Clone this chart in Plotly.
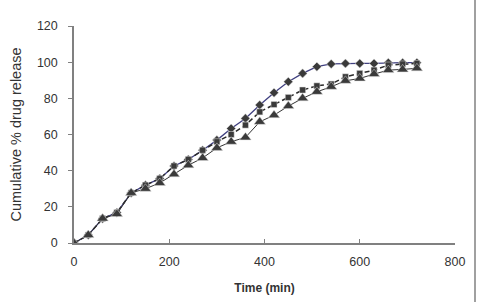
import plotly.graph_objects as go

time = [0, 30, 60, 90, 120, 150, 180, 210, 240, 270, 300, 330, 360, 390, 420, 450, 480, 510, 540, 570, 600, 630, 660, 690, 720]
diamond = [0, 4.4, 13.5, 16.8, 27.7, 32, 35.6, 42.6, 46.2, 51.3, 56.9, 63.3, 68.9, 76.3, 83.1, 89.2, 93.8, 97.5, 99.0, 99.3, 99.3, 99.3, 99.7, 99.7, 99.7]
square = [0, 4.4, 13.5, 16.8, 27.7, 32, 35.6, 42.6, 46.2, 51.3, 56.0, 60.0, 65.2, 72.5, 76.6, 80.5, 84.6, 86.9, 87.9, 91.9, 93.8, 95.6, 98.4, 99.0, 99.3]
triangle = [0, 4.4, 13.5, 16.0, 27.7, 30.0, 33.2, 38.0, 43.0, 47.0, 52.6, 56.0, 58.4, 67.0, 70.7, 75.7, 80.0, 83.6, 86.4, 89.7, 91.0, 93.4, 95.6, 96.0, 96.6]

x_ticks = [0, 200, 400, 600, 800]
y_ticks = [0, 20, 40, 60, 80, 100, 120]

fig = go.Figure()
fig.add_trace(go.Scatter(x=time, y=diamond, mode="lines+markers",
                         line=dict(color="#404080", width=1.3),
                         marker=dict(symbol="diamond", size=7, color="#3a3a3a",
                                     line=dict(color="#dddddd", width=0.5))))
fig.add_trace(go.Scatter(x=time, y=square, mode="lines+markers",
                         line=dict(color="#2a2a2a", width=1.5, dash="5px,3px"),
                         marker=dict(symbol="square", size=6, color="#3a3a3a",
                                     line=dict(color="#dddddd", width=0.5))))
fig.add_trace(go.Scatter(x=time, y=triangle, mode="lines+markers",
                         line=dict(color="#333333", width=1),
                         marker=dict(symbol="triangle-up", size=10, color="#3a3a3a",
                                     line=dict(color="#dddddd", width=0.5))))

fig.update_layout(
    width=480, height=302,
    margin=dict(l=74, r=25, t=26, b=59),
    paper_bgcolor="white", plot_bgcolor="white",
    showlegend=False,
    font=dict(family="Liberation Sans, Arial, sans-serif", color="#333333", size=12.5),
    xaxis=dict(range=[0, 800], tickvals=x_ticks, showgrid=False, zeroline=False,
               showline=True, linecolor="#808080", linewidth=1.5, automargin=False,
               ticks="inside", ticklen=4, tickcolor="#808080", ticklabelstandoff=6,
               title=dict(text="<b>Time (min)</b>", font=dict(size=12), standoff=16)),
    yaxis=dict(range=[0, 120], tickvals=y_ticks, showgrid=False, zeroline=False,
               showline=True, linecolor="#808080", linewidth=1.5, automargin=False,
               ticks="outside", ticklen=4, tickcolor="#808080", ticklabelstandoff=8,
               title=dict(text="Cumulative % drug release", font=dict(size=14.5), standoff=12)),
    shapes=[dict(type="line", xref="paper", yref="paper",
                 x0=(475 - 74) / 381, x1=(475 - 74) / 381, y0=-59 / 217, y1=1 + 26 / 217,
                 line=dict(color="#808080", width=1.5))],
)

fig.write_html("out.html")
